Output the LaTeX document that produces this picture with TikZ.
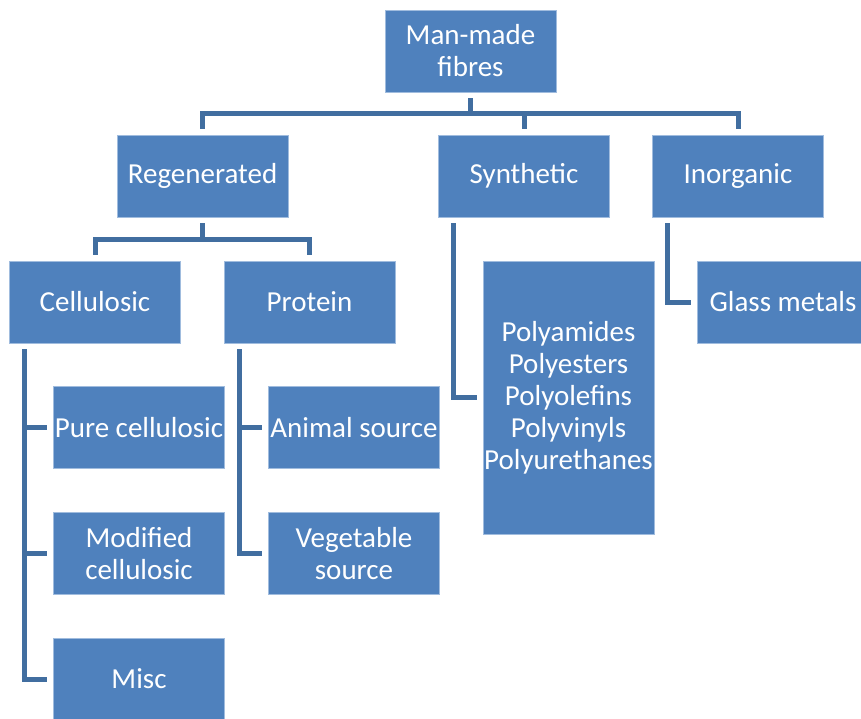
\documentclass[tikz,border=0pt]{standalone}
\usepackage{fontspec}
\setmainfont{Carlito}
\definecolor{boxblue}{RGB}{79,129,189}
\definecolor{boxedge}{RGB}{160,188,222}
\definecolor{linkblue}{RGB}{65,110,160}
\begin{document}
\begin{tikzpicture}[x=1pt,y=-1pt,
  box/.style={rectangle, fill=boxblue, draw=boxedge, line width=0.7pt,
    minimum width=171pt, minimum height=82pt, inner sep=0pt,
    text=white, align=center, font=\fontsize{29}{32}\selectfont},
  conn/.style={draw=linkblue, line width=5pt, shorten <=6pt, shorten >=6pt}]
\useasboundingbox (0,0) rectangle (861,718);
\clip (0,0) rectangle (861,718);
\node[box] (top) at (470.5,51) {Man-made\\fibres};
\node[box] (reg) at (202.5,176) {Regenerated};
\node[box] (syn) at (524,176) {Synthetic};
\node[box] (inorg) at (738,176) {Inorganic};
\node[box] (cell) at (95,302) {Cellulosic};
\node[box] (prot) at (309.5,302) {Protein};
\node[box, minimum height=273pt] (poly) at (568.5,397.5) {Polyamides\\Polyesters\\Polyolefins\\Polyvinyls\\Polyurethanes};
\node[box, minimum width=172pt] (glass) at (783,302) {Glass metals};
\node[box] (pure) at (139,427.5) {Pure cellulosic};
\node[box] (mod) at (139,553.5) {Modified\\cellulosic};
\node[box] (misc) at (139,679) {Misc};
\node[box] (animal) at (354,427.5) {Animal source};
\node[box] (veg) at (354,553.5) {Vegetable\\source};
% level 1
\draw[conn] (top.south) -- ++(0,21.5) -| (reg.north);
\draw[conn] (top.south) -- ++(0,21.5) -| (syn.north);
\draw[conn] (top.south) -- ++(0,21.5) -| (inorg.north);
% level 2
\draw[conn] (reg.south) -- ++(0,22) -| (cell.north);
\draw[conn] (reg.south) -- ++(0,22) -| (prot.north);
% side branches
\draw[conn] ([xshift=-71pt]cell.south) |- (pure.west);
\draw[conn] ([xshift=-71pt]cell.south) |- (mod.west);
\draw[conn] ([xshift=-71pt]cell.south) |- (misc.west);
\draw[conn] ([xshift=-70.5pt]prot.south) |- (animal.west);
\draw[conn] ([xshift=-70.5pt]prot.south) |- (veg.west);
\draw[conn] ([xshift=-71pt]syn.south) |- (poly.west);
\draw[conn] ([xshift=-71pt]inorg.south) |- (glass.west);
\end{tikzpicture}
\end{document}
